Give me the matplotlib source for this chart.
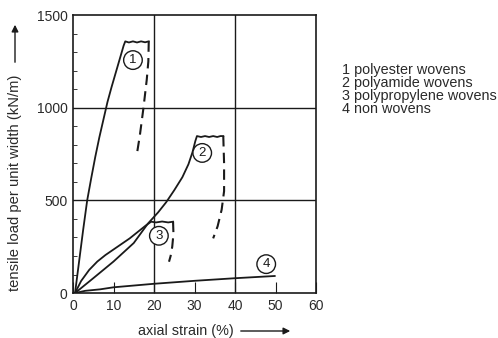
import numpy as np
import matplotlib.pyplot as plt
from matplotlib.patches import FancyArrowPatch

plt.rcParams['font.family'] = ['Liberation Sans', 'DejaVu Sans']

# curve 1: polyester wovens
c1_x = [0.5, 1.5, 2.5, 3.5, 4.5, 5.5, 6.5, 7.5, 8.5, 9.5, 10.5, 11.5, 12.5, 12.9,
        13.8, 14.8, 15.8, 16.8, 17.8, 18.7]
c1_y = [0, 170, 340, 500, 620, 735, 840, 935, 1030, 1110, 1185, 1260, 1335, 1358,
        1352, 1358, 1352, 1358, 1353, 1358]
d1_x = [18.7, 18.6, 18.2, 17.4, 16.5, 15.7]
d1_y = [1358, 1250, 1150, 1000, 850, 740]

# curve 2: polyamide wovens
c2_x = [0.5, 5, 10, 15, 18.5, 21, 23, 25, 27, 28.5, 29.5, 30.2, 30.6,
        31.6, 32.6, 33.6, 34.6, 35.6, 36.4, 37.1]
c2_y = [0, 80, 170, 270, 375, 435, 490, 555, 625, 695, 760, 820, 847,
        842, 847, 842, 847, 842, 847, 847]
d2_x = [37.1, 37.3, 37.3, 36.7, 35.7, 34.6]
d2_y = [847, 700, 550, 450, 360, 295]

# curve 3: polypropylene wovens
c3_x = [0.5, 2, 4, 6, 8, 10, 12, 14, 16, 18, 19.3, 20.5, 22, 23.5, 24.7]
c3_y = [0, 65, 125, 170, 205, 235, 265, 295, 330, 365, 385, 381, 386, 381, 385]
d3_x = [24.7, 24.8, 24.5, 24.1, 23.7]
d3_y = [385, 320, 250, 200, 169]

# curve 4: non wovens
c4_x = [0.5, 3, 6.7, 10, 20, 30, 40, 49.8]
c4_y = [0, 12, 20, 31, 50, 66, 80, 92]

labels = ['1', '2', '3', '4']
label_x = [14.8, 31.9, 21.2, 47.7]
label_y = [1257, 756, 309, 156]

legend_lines = ['1 polyester wovens', '2 polyamide wovens',
                '3 polypropylene wovens', '4 non wovens']

ink = '#1a1a1a'
txt = '#2a2a2a'

fig = plt.figure(figsize=(4.98, 3.38), dpi=100)
ax = fig.add_axes([0.1466, 0.133, 0.488, 0.8225])

for x, y in [(c1_x, c1_y), (c2_x, c2_y), (c3_x, c3_y), (c4_x, c4_y)]:
    ax.plot(x, y, color=ink, lw=1.3, solid_joinstyle='round')
for x, y in [(d1_x, d1_y), (d2_x, d2_y), (d3_x, d3_y)]:
    ax.plot(x, y, color=ink, lw=1.5, dashes=(5, 3))

for lab, x, y in zip(labels, label_x, label_y):
    ax.text(x, y, lab, ha='center', va='center', fontsize=9.5, color=ink,
            bbox=dict(boxstyle='circle,pad=0.25', fc='white', ec=ink, lw=1.0))

ax.set_xlim(0, 60)
ax.set_ylim(0, 1500)
ax.set_xticks([0, 10, 20, 30, 40, 50, 60])
ax.set_yticks([0, 500, 1000, 1500])
ax.set_yticks(np.arange(0, 1501, 100), minor=True)
ax.tick_params(axis='both', labelsize=10, labelcolor=txt, direction='in', length=0, pad=4)
ax.tick_params(axis='y', which='minor', direction='in', length=3, color=ink)
ax.tick_params(axis='x', which='major', direction='in', length=8, color=ink)
for xv in [20, 40]:
    ax.axvline(xv, color=ink, lw=1.0)
for yv in [500, 1000]:
    ax.axhline(yv, color=ink, lw=1.0)
for s in ax.spines.values():
    s.set_color(ink)
    s.set_linewidth(1.2)

# axis labels with arrows
fig.text(15 / 498, 1 - 183 / 338, 'tensile load per unit width (kN/m)', rotation=90,
         fontsize=10.6, color=txt, ha='center', va='center')
fig.text(185.5 / 498, 1 - 331 / 338, 'axial strain (%)',
         fontsize=10.4, color=txt, ha='center', va='center')
fig.patches.append(FancyArrowPatch(
    (15 / 498, 1 - 65 / 338), (15 / 498, 1 - 22 / 338), transform=fig.transFigure,
    arrowstyle='-|>,head_length=4,head_width=2', color=ink, lw=1.0))
fig.patches.append(FancyArrowPatch(
    (238 / 498, 1 - 331 / 338), (293 / 498, 1 - 331 / 338), transform=fig.transFigure,
    arrowstyle='-|>,head_length=4,head_width=2', color=ink, lw=1.0))

for i, line in enumerate(legend_lines):
    fig.text(342 / 498, 1 - (70 + i * 13) / 338, line, fontsize=10.4, color=txt,
             ha='left', va='center')

fig.savefig('out.png', dpi=100)
